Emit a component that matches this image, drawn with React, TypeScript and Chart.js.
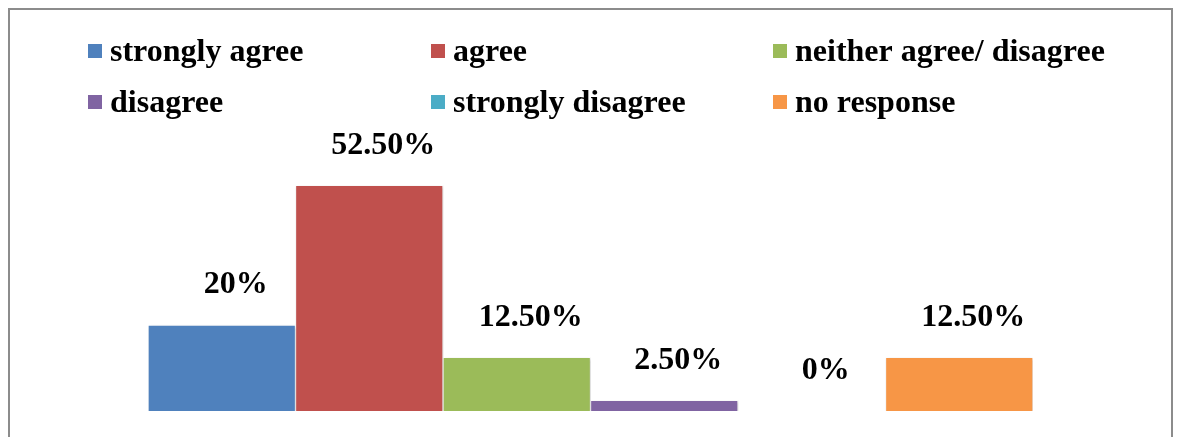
import React, { useEffect, useRef } from "react";
import { Chart, registerables } from "chart.js";

Chart.register(...registerables);

const categories = ["Response"];
const seriesNames = [
  "strongly agree",
  "agree",
  "neither agree/ disagree",
  "disagree",
  "strongly disagree",
  "no response",
];
const seriesValues = [20, 52.5, 12.5, 2.5, 0, 12.5];
const valueLabels = ["20%", "52.50%", "12.50%", "2.50%", "0%", "12.50%"];
const seriesColors = ["#4F81BD", "#C0504D", "#9BBB59", "#8064A2", "#4BACC6", "#F79646"];

const FONT = '"Liberation Serif", "Times New Roman", serif';

const legendPlugin = {
  id: "gridLegend",
  afterDraw(chart: any) {
    const ctx = chart.ctx;
    ctx.save();
    ctx.font = `bold 32px ${FONT}`;
    ctx.textBaseline = "alphabetic";
    ctx.textAlign = "left";
    const colX = [88, 431, 773];
    const rowY = [44, 95];
    chart.data.datasets.forEach((ds: any, i: number) => {
      const c = i % 3;
      const r = Math.floor(i / 3);
      const x = colX[c];
      const y = rowY[r];
      ctx.fillStyle = ds.backgroundColor;
      ctx.fillRect(x, y, 14, 14);
      ctx.fillStyle = "#000";
      ctx.fillText(ds.label, x + 22, y + 17);
    });
    ctx.restore();
  },
};

const valueLabelPlugin = {
  id: "valueLabels",
  afterDatasetsDraw(chart: any) {
    const ctx = chart.ctx;
    ctx.save();
    ctx.font = `bold 32px ${FONT}`;
    ctx.textAlign = "center";
    ctx.textBaseline = "middle";
    ctx.fillStyle = "#000";
    chart.data.datasets.forEach((ds: any, i: number) => {
      const meta = chart.getDatasetMeta(i);
      meta.data.forEach((bar: any) => {
        ctx.fillText(valueLabels[i], bar.x + 14, bar.y - 40);
      });
    });
    ctx.restore();
  },
};

const shadowPlugin = {
  id: "barShadow",
  beforeDatasetsDraw(chart: any) {
    const ctx = chart.ctx;
    ctx.save();
    ctx.shadowColor = "rgba(0,0,0,0.25)";
    ctx.shadowBlur = 3;
    ctx.shadowOffsetX = 1;
    ctx.shadowOffsetY = 1;
  },
  afterDatasetsDraw(chart: any) {
    chart.ctx.restore();
  },
};

export default function App() {
  const canvasRef = useRef<HTMLCanvasElement | null>(null);

  useEffect(() => {
    if (!canvasRef.current) return;
    const chart = new Chart(canvasRef.current, {
      type: "bar",
      data: {
        labels: categories,
        datasets: seriesNames.map((name, i) => ({
          label: name,
          data: [seriesValues[i]],
          backgroundColor: seriesColors[i],
          borderColor: "#FFFFFF",
          borderWidth: 1,
          categoryPercentage: 1,
          barPercentage: 1,
        })),
      },
      options: {
        animation: false,
        responsive: false,
        maintainAspectRatio: false,
        layout: { padding: { left: 148, right: 146, top: 153, bottom: 26 } },
        plugins: {
          legend: { display: false },
          tooltip: { enabled: false },
          title: { display: false },
        },
        scales: {
          x: { display: false },
          y: { display: false, min: 0, max: 60 },
        },
      },
      plugins: [shadowPlugin, valueLabelPlugin, legendPlugin],
    });
    return () => chart.destroy();
  }, []);

  return (
    <div
      style={{
        position: "fixed",
        left: 0,
        top: 0,
        width: 1179,
        height: 437,
        overflow: "hidden",
        background: "#fff",
      }}
    >
      <div
        style={{
          position: "absolute",
          left: 8,
          top: 8,
          width: 1165,
          height: 520,
          border: "2px solid #8c8c8c",
          boxSizing: "border-box",
        }}
      />
      <canvas
        ref={canvasRef}
        width={1179}
        height={437}
        style={{ position: "absolute", left: 0, top: 0, width: 1179, height: 437 }}
      />
    </div>
  );
}
